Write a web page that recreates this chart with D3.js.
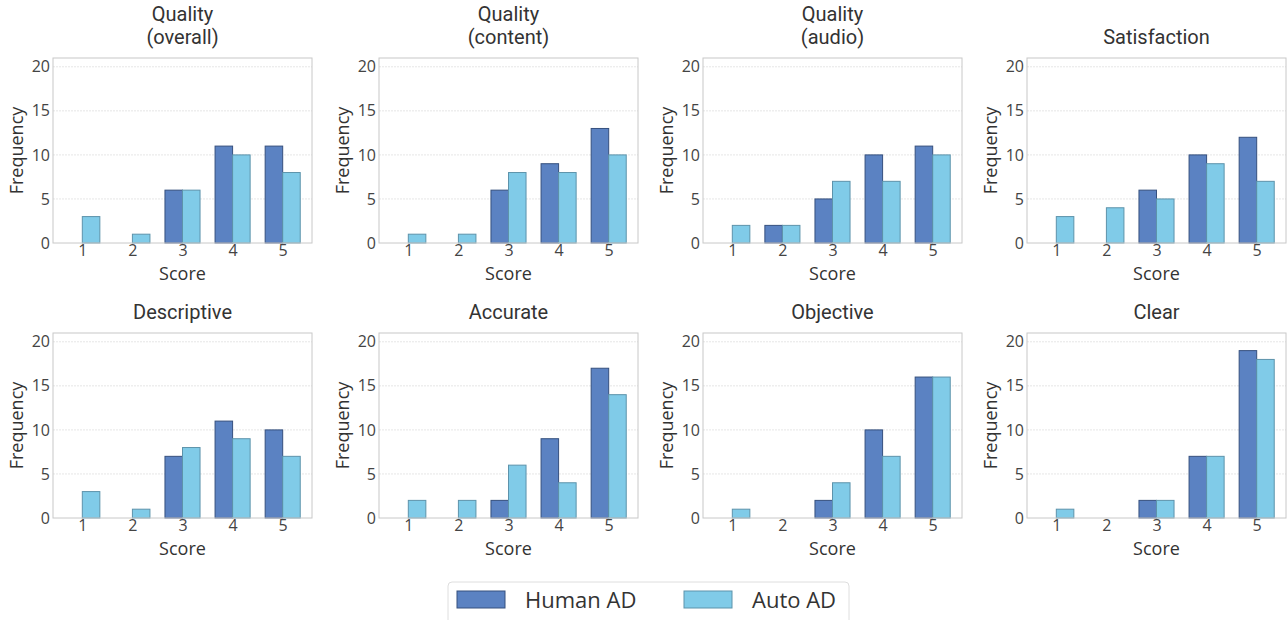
<!DOCTYPE html>
<html><head><meta charset="utf-8">
<script src="https://cdn.jsdelivr.net/npm/d3@7"></script>
<style>body{margin:0;background:#fff;} svg{display:block;font-family:"Open Sans",sans-serif;}</style>
</head><body>
<script>
const scores = [1, 2, 3, 4, 5];
const seriesNames = ["Human AD", "Auto AD"];
const titles = [["Quality", "(overall)"], ["Quality", "(content)"], ["Quality", "(audio)"], ["Satisfaction"],
                ["Descriptive"], ["Accurate"], ["Objective"], ["Clear"]];
const humanAD = [
  [0, 0, 6, 11, 11],
  [0, 0, 6, 9, 13],
  [0, 2, 5, 10, 11],
  [0, 0, 6, 10, 12],
  [0, 0, 7, 11, 10],
  [0, 0, 2, 9, 17],
  [0, 0, 2, 10, 16],
  [0, 0, 2, 7, 19]
];
const autoAD = [
  [3, 1, 6, 10, 8],
  [1, 1, 8, 8, 10],
  [2, 2, 7, 7, 10],
  [3, 4, 5, 9, 7],
  [3, 1, 8, 9, 7],
  [2, 2, 6, 4, 14],
  [1, 0, 4, 7, 16],
  [1, 0, 2, 7, 18]
];
const yTicks = [0, 5, 10, 15, 20];

const W = 1287, H = 620;
const fills = ["#5b82c2", "#80cbe8"];
const strokes = ["#36507e", "#5d93ab"];
const svg = d3.select("body").append("svg").attr("width", W).attr("height", H);

const lefts = [53, 379, 703, 1027];
const tops = [58, 333];
const pw = 259, ph = 185;
const barW = 0.35;

titles.forEach((t, i) => {
  const col = i % 4, row = Math.floor(i / 4);
  const g = svg.append("g").attr("transform", `translate(${lefts[col]},${tops[row]})`);
  const x = d3.scaleLinear().domain([0.415, 5.585]).range([0, pw]);
  const y = d3.scaleLinear().domain([0, 21]).range([ph, 0]);

  // grid
  g.selectAll(".grid").data(yTicks.slice(1)).enter().append("line")
    .attr("x1", 0).attr("x2", pw).attr("y1", d => y(d)).attr("y2", d => y(d))
    .attr("stroke", "#e6e6e6").attr("stroke-width", 1).attr("stroke-dasharray", "2,1");

  // bars
  const data = [humanAD[i], autoAD[i]];
  data.forEach((vals, s) => {
    g.selectAll(".b" + s).data(vals).enter().append("rect")
      .attr("x", (d, k) => x(scores[k] - barW + s * barW))
      .attr("width", x(barW) - x(0))
      .attr("y", d => y(d))
      .attr("height", d => y(0) - y(d))
      .attr("fill", fills[s]).attr("stroke", d => d === 0 ? "#b9b9b9" : strokes[s]).attr("stroke-width", 1);
  });

  // frame
  g.append("rect").attr("x", 0).attr("y", 0).attr("width", pw).attr("height", ph)
    .attr("fill", "none").attr("stroke", "#c8c8c8").attr("stroke-width", 1);

  // y axis
  const ya = g.append("g").call(d3.axisLeft(y).tickValues(yTicks).tickSize(0).tickPadding(3));
  ya.select(".domain").remove();
  ya.selectAll("text").attr("font-size", 16).attr("fill", "#444").attr("font-family", "Open Sans");

  // x axis
  const xa = g.append("g").attr("transform", `translate(0,${ph})`)
    .call(d3.axisBottom(x).tickValues(scores).tickFormat(d3.format("d")).tickSize(0).tickPadding(2));
  xa.select(".domain").remove();
  xa.selectAll("text").attr("font-size", 16).attr("fill", "#444").attr("font-family", "Open Sans");

  g.append("text").attr("x", pw / 2).attr("y", ph + 37).attr("text-anchor", "middle")
    .attr("font-size", 18).attr("fill", "#333").text("Score");
  g.append("text").attr("transform", `translate(${-30},${ph / 2}) rotate(-90)`)
    .attr("text-anchor", "middle").attr("font-size", 18).attr("fill", "#333").text("Frequency");

  // title (one text element, lines as tspans)
  const tl = t.length;
  const lh = 23.5;
  const tt = g.append("text").attr("text-anchor", "middle").attr("font-size", 20).attr("fill", "#333")
    .attr("font-family", "Roboto")
    .attr("x", pw / 2).attr("y", -14 - (tl - 1) * lh);
  t.forEach((line, k) => {
    tt.append("tspan").attr("x", pw / 2).attr("dy", k === 0 ? 0 : lh).text(line);
  });
});

// legend
const lg = svg.append("g");
lg.append("rect").attr("x", 448).attr("y", 582).attr("width", 401).attr("height", 50).attr("rx", 4)
  .attr("fill", "#fff").attr("stroke", "#dedede");
const lx = [457, 684];
seriesNames.forEach((n, s) => {
  lg.append("rect").attr("x", lx[s]).attr("y", 591).attr("width", 48).attr("height", 17)
    .attr("fill", fills[s]).attr("stroke", strokes[s]).attr("stroke-width", 1);
  lg.append("text").attr("x", lx[s] + 68).attr("y", 608).attr("font-size", 22).attr("fill", "#333").text(n);
});
</script>
</body></html>
